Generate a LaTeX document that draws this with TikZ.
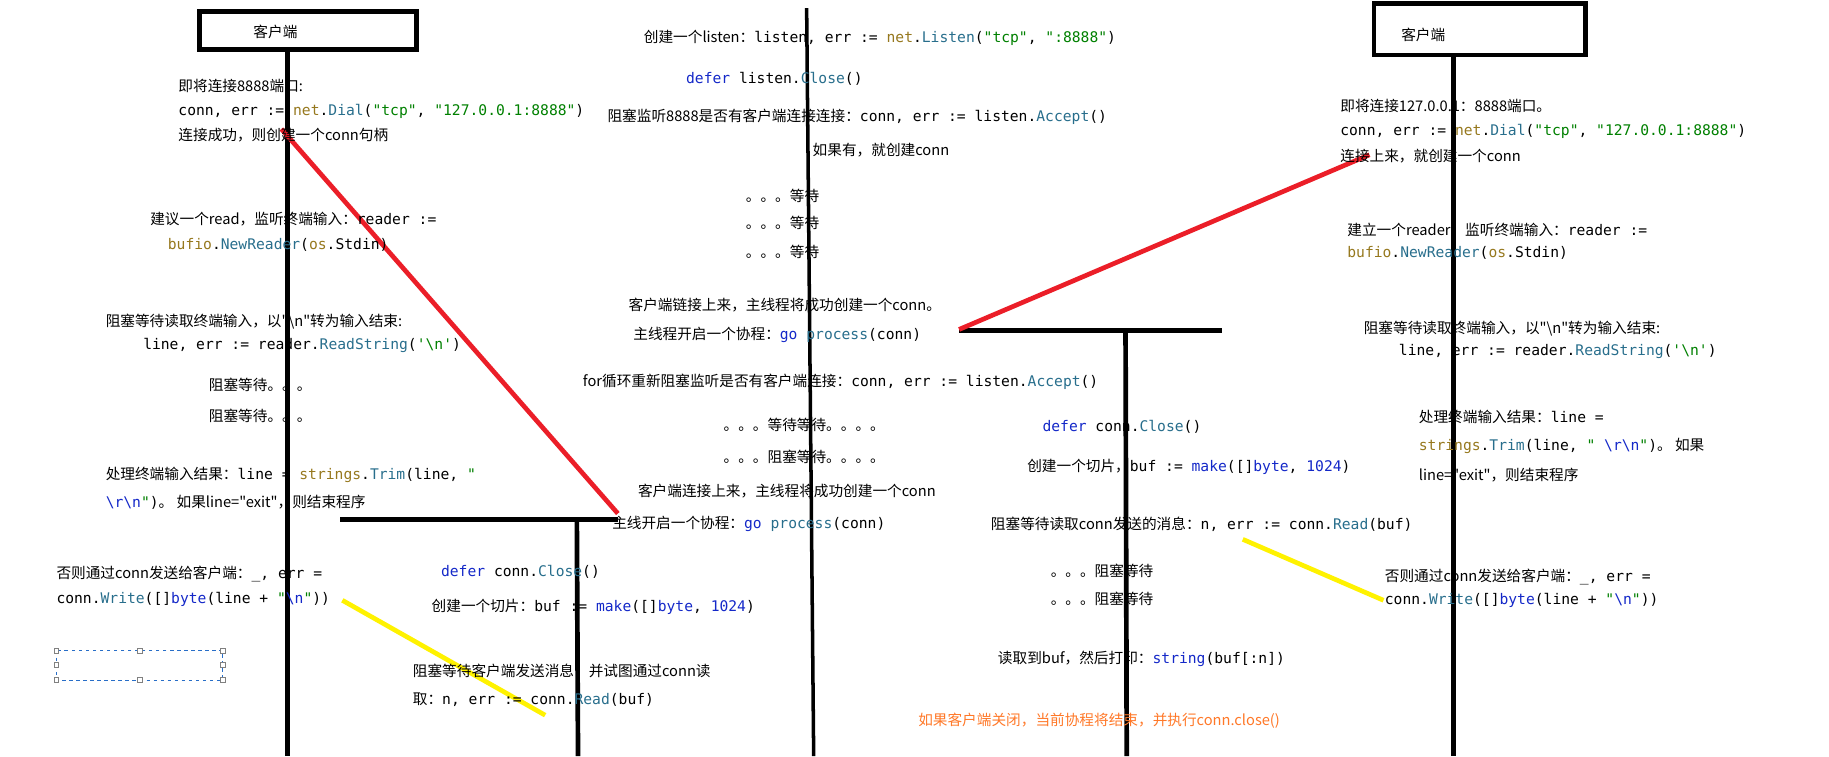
\documentclass[tikz,border=0pt]{standalone}
\usepackage{fontspec}
\setmainfont{Noto Sans CJK SC}[Ligatures=ResetAll]
\newfontfamily\cj{Noto Sans CJK SC}
\newfontfamily\cd{DejaVu Sans Mono}
\definecolor{kwb}{RGB}{20,40,200}
\definecolor{fnc}{RGB}{40,110,140}
\definecolor{strg}{RGB}{0,128,0}
\definecolor{pkg}{RGB}{150,120,30}
\definecolor{orng}{RGB}{255,120,40}
\definecolor{selb}{RGB}{40,110,200}
\newcommand\kw[1]{\textcolor{kwb}{#1}}
\newcommand\fn[1]{\textcolor{fnc}{#1}}
\newcommand\st[1]{\textcolor{strg}{#1}}
\newcommand\pk[1]{\textcolor{pkg}{#1}}
\newcommand\bs{\textbackslash}
\begin{document}
\begin{tikzpicture}[x=1pt,y=-1pt,
  tx/.style={anchor=west,inner sep=0pt,font=\cj\fontsize{12.5}{14}\selectfont},
  life/.style={line width=4pt},
  redl/.style={line width=4pt,draw={rgb,255:red,235;green,30;blue,40}},
  yell/.style={line width=4pt,draw=yellow},
  boxs/.style={draw,line width=4pt,minimum width=185pt,minimum height=32pt,inner sep=0pt}]
\useasboundingbox (0,0) rectangle (1560,645);
% boxes and lifelines
\node[boxs] (cb1) at (262.5,26) {};
\node[tx] at (216,27) {客户端};
\node[boxs,minimum width=180pt,minimum height=44pt] (cb2) at (1262,25) {};
\node[tx] at (1195,30) {客户端};
\coordinate (l1b) at (245,645);
\draw[life] (cb1.south -| l1b) -- (l1b);
\coordinate (c1t) at (688,7); \coordinate (c1b) at (694,645);
\draw[line width=3pt] (c1t) -- (c1b);
\coordinate (r1b) at (1240,645);
\draw[life] (cb2.south -| r1b) -- (r1b);
\coordinate (g1a) at (290,443); \coordinate (g1b) at (527,443);
\coordinate (g1t) at (492,443); \coordinate (g1e) at (493,645);
\draw[life] (g1a) -- (g1b); \draw[life] (g1t) -- (g1e);
\coordinate (g2a) at (818,282); \coordinate (g2b) at (1042,282);
\coordinate (g2t) at (960,282); \coordinate (g2e) at (961,645);
\draw[life] (g2a) -- (g2b); \draw[life] (g2t) -- (g2e);
% red / yellow strokes
\coordinate (ra) at (240,110); \coordinate (rb) at (527,438);
\coordinate (rc) at (818,281); \coordinate (rd) at (1168,132);
\draw[redl] (ra) -- (rb); \draw[redl] (rc) -- (rd);
\coordinate (ya) at (292,512); \coordinate (yb) at (465,610);
\coordinate (yc) at (1060,460); \coordinate (yd) at (1180,512);
\draw[yell] (ya) -- (yb); \draw[yell] (yc) -- (yd);
% selection frame
\draw[selb,dashed,line width=0.7pt] (48,555) rectangle (190,580);
\foreach \p in {(48,555),(119,555),(190,555),(48,567),(190,567),(48,580),(119,580),(190,580)}
  \draw[gray,fill=white,line width=0.5pt] \p ++(-2,-2) rectangle ++(4,4);
% left client
\node[tx] (a1) at (152,73) {即将连接8888端口:};
\node[tx] (a2) at (152,95) {\cd conn, err := \pk{net}.\fn{Dial}(\st{"tcp"}, \st{"127.0.0.1:8888"})};
\node[tx] (a3) at (152,115) {连接成功，则创建一个conn句柄};
\node[tx] (a4) at (128,187) {建议一个read，监听终端输入：{\cd reader :=}};
\node[tx] (a5) at (143,209) {\cd \pk{bufio}.\fn{NewReader}(\pk{os}.Stdin)};
\node[tx] (a6) at (90,274) {阻塞等待读取终端输入，以"\bs n"转为输入结束:};
\node[tx] (a7) at (122,295) {\cd line, err := reader.\fn{ReadString}(\st{'\bs n'})};
\node[tx] (a8) at (178,328) {阻塞等待。。。};
\node[tx] (a9) at (178,355) {阻塞等待。。。};
\node[tx] (a10) at (90,405) {处理终端输入结果：{\cd line = \pk{strings}.\fn{Trim}(line, \st{"}}};
\node[tx] (a11) at (90,428) {{\cd\kw{\bs r\bs n}\st{"})}。 如果line="exit"，则结束程序};
\node[tx] (a12) at (48,490) {否则通过conn发送给客户端：{\cd \_, err =}};
\node[tx] (a13) at (48,511) {\cd conn.\fn{Write}([]\kw{byte}(line + \st{"}\kw{\bs n}\st{"}))};
\node[tx] (a14) at (376,488) {\cd \kw{defer} conn.\fn{Close}()};
\node[tx] (a15) at (368,518) {创建一个切片：{\cd buf := \kw{make}([]\kw{byte}, \kw{1024})}};
\node[tx] (a16) at (352,572) {阻塞等待客户端发送消息，并试图通过conn读};
\node[tx] (a17) at (352,597) {取：{\cd n, err := conn.\fn{Read}(buf)}};
% server
\node[tx] (s1) at (549,32) {创建一个listen：{\cd listen, err := \pk{net}.\fn{Listen}(\st{"tcp"}, \st{":8888"})}};
\node[tx] (s2) at (585,67) {\cd \kw{defer} listen.\fn{Close}()};
\node[tx] (s3) at (518,100) {阻塞监听8888是否有客户端连接连接：{\cd conn, err := listen.\fn{Accept}()}};
\node[tx] (s4) at (693,128) {如果有，就创建conn};
\node[tx] (s5) at (636,167) {。。。等待};
\node[tx] (s6) at (636,190) {。。。等待};
\node[tx] (s7) at (636,215) {。。。等待};
\node[tx] (s8) at (536,260) {客户端链接上来，主线程将成功创建一个conn。};
\node[tx] (s9) at (540,286) {主线程开启一个协程：{\cd \kw{go} \fn{process}(conn)}};
\node[tx] (s10) at (497,326) {for循环重新阻塞监听是否有客户端连接：{\cd conn, err := listen.\fn{Accept}()}};
\node[tx] (s11) at (617,362) {。。。等待等待。。。。};
\node[tx] (s12) at (617,390) {。。。阻塞等待。。。。};
\node[tx] (s13) at (544,419) {客户端连接上来，主线程将成功创建一个conn};
\node[tx] (s14) at (522,447) {主线开启一个协程：{\cd \kw{go} \fn{process}(conn)}};
\node[tx] (s15) at (889,364) {\cd \kw{defer} conn.\fn{Close}()};
\node[tx] (s16) at (876,398) {创建一个切片，{\cd buf := \kw{make}([]\kw{byte}, \kw{1024})}};
\node[tx] (s17) at (845,447) {阻塞等待读取conn发送的消息：{\cd n, err := conn.\fn{Read}(buf)}};
\node[tx] (s18) at (896,487) {。。。阻塞等待};
\node[tx] (s19) at (896,511) {。。。阻塞等待};
\node[tx] (s20) at (851,562) {读取到buf，然后打印：{\cd \kw{string}(buf[:n])}};
\node[tx,text=orng] (s21) at (783,615) {如果客户端关闭，当前协程将结束，并执行conn.close()};
% right client
\node[tx] (b1) at (1143,90) {即将连接127.0.0.1：8888端口。};
\node[tx] (b2) at (1143,112) {\cd conn, err := \pk{net}.\fn{Dial}(\st{"tcp"}, \st{"127.0.0.1:8888"})};
\node[tx] (b3) at (1143,133) {连接上来，就创建一个conn};
\node[tx] (b4) at (1149,196) {建立一个reader，监听终端输入：{\cd reader :=}};
\node[tx] (b5) at (1149,216) {\cd \pk{bufio}.\fn{NewReader}(\pk{os}.Stdin)};
\node[tx] (b6) at (1163,280) {阻塞等待读取终端输入，以"\bs n"转为输入结束:};
\node[tx] (b7) at (1193,300) {\cd line, err := reader.\fn{ReadString}(\st{'\bs n'})};
\node[tx] (b8) at (1210,356) {处理终端输入结果：{\cd line =}};
\node[tx] (b9) at (1210,380) {{\cd \pk{strings}.\fn{Trim}(line, \st{" }\kw{\bs r\bs n}\st{"})}。 如果};
\node[tx] (b10) at (1210,405) {line="exit"，则结束程序};
\node[tx] (b11) at (1181,492) {否则通过conn发送给客户端：{\cd \_, err =}};
\node[tx] (b12) at (1181,512) {\cd conn.\fn{Write}([]\kw{byte}(line + \st{"}\kw{\bs n}\st{"}))};
\end{tikzpicture}
\end{document}
